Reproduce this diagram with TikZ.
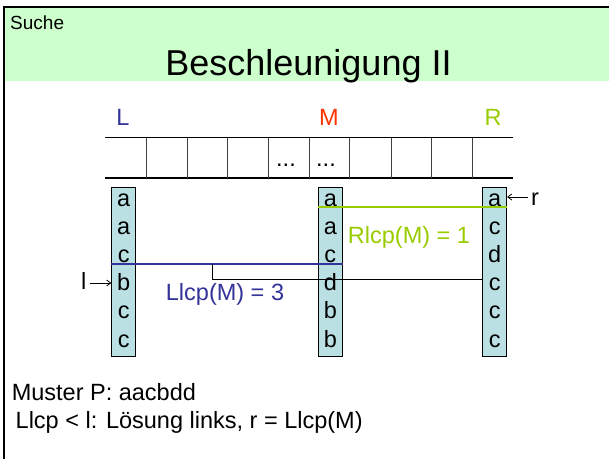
\documentclass[tikz,border=0pt]{standalone}
\usepackage{fontspec}
\setmainfont{Liberation Sans}
\usetikzlibrary{arrows.meta}
\definecolor{hdrgreen}{RGB}{204,255,204}
\definecolor{colfill}{RGB}{187,224,227}
\definecolor{lblue}{RGB}{51,51,153}
\definecolor{mred}{RGB}{255,51,0}
\definecolor{rgreen}{RGB}{153,204,0}
\tikzset{
  body/.style={inner sep=0pt, font=\fontsize{23.5}{28}\selectfont},
  colbox/.style={draw=black, line width=0.8pt, fill=colfill, inner sep=0pt, minimum width=24pt, minimum height=169pt},
  letter/.style={body, anchor=base},
  gridline/.style={line width=0.9pt, draw=black!75},
  edgeline/.style={line width=1.8pt, draw=black},
  ptr/.style={line width=0.8pt, -{Straight Barb[length=4pt,width=6pt]}},
}
\begin{document}
\begin{tikzpicture}[x=1pt,y=-1pt]
\useasboundingbox (0,0) rectangle (609,459);
% header band and frame
\fill[hdrgreen] (4,7) rectangle (609,81);
\draw[line width=2pt] (609,7) -- (4,7) -- (4,459);
\node[anchor=base west, inner sep=0pt, font=\fontsize{19}{22}\selectfont] (suche) at (10,29) {Suche};
\node[anchor=base, inner sep=0pt, font=\fontsize{36}{40}\selectfont] (title) at (308.5,75) {Beschleunigung II};
% array
\draw[edgeline] (105,137.5) -- (513,137.5);
\draw[edgeline] (105,177.7) -- (513,177.7);
\foreach \x in {146,187,227,268,309,349,391,431,472}
  \draw[gridline] (\x,137.5) -- (\x,177.7);
\node[letter] (dots1) at (286,166) {...};
\node[letter] (dots2) at (326,166) {...};
% labels
\node[letter, text=lblue] (labL) at (123,125) {L};
\node[letter, text=mred] (labM) at (329,125) {M};
\node[letter, text=rgreen] (labR) at (493,125) {R};
% columns
\node[colbox] (colL) at (123.7,271.5) {};
\node[colbox] (colM) at (330.3,271.5) {};
\node[colbox] (colR) at (494.7,271.5) {};
\foreach \c/\xx/\letters in {L/123.7/{a,a,c,b,c,c}, M/330.3/{a,a,c,d,b,b}, R/494.7/{a,c,d,c,c,c}}{
  \foreach \l [count=\i] in \letters
    \node[letter] (\c\i) at (\xx,{206+(\i-1)*28.2}) {\l};
}
% lcp lines
\coordinate (gA) at (colM.west |- 0,206.7);
\coordinate (gB) at (colR.east |- 0,206.7);
\draw[rgreen, line width=2.2pt] (gA) -- (gB);
\coordinate (bA) at (colL.west |- 0,264);
\coordinate (bB) at (colM.east |- 0,264);
\draw[lblue, line width=2.2pt] (bA) -- (bB);
\coordinate (kA) at (212.7,264);
\coordinate (kB) at (colR.west |- 0,279.3);
\draw[black, line width=1.1pt] (kA) |- (kB);
\node[letter, text=lblue] (llcp) at (225,300) {Llcp(M) = 3};
\node[letter, text=rgreen] (rlcp) at (409,243) {Rlcp(M) = 1};
% pointers
\node[letter, anchor=base west] (lptr) at (81,289.3) {l};
\draw[ptr] (lptr.east |- 0,283) ++(3,0) -- (colL.west |- 0,283);
\node[letter, anchor=base west] (rptr) at (531,205) {r};
\draw[ptr] (rptr.west |- 0,197) ++(-3,0) -- (colR.east |- 0,197);
% bottom text
\node[body, anchor=base west] (muster) at (11.6,400) {Muster P: aacbdd};
\node[body, anchor=base west] (rule) at (15.5,428) {Llcp < l: Lösung links, r = Llcp(M)};
\end{tikzpicture}
\end{document}
